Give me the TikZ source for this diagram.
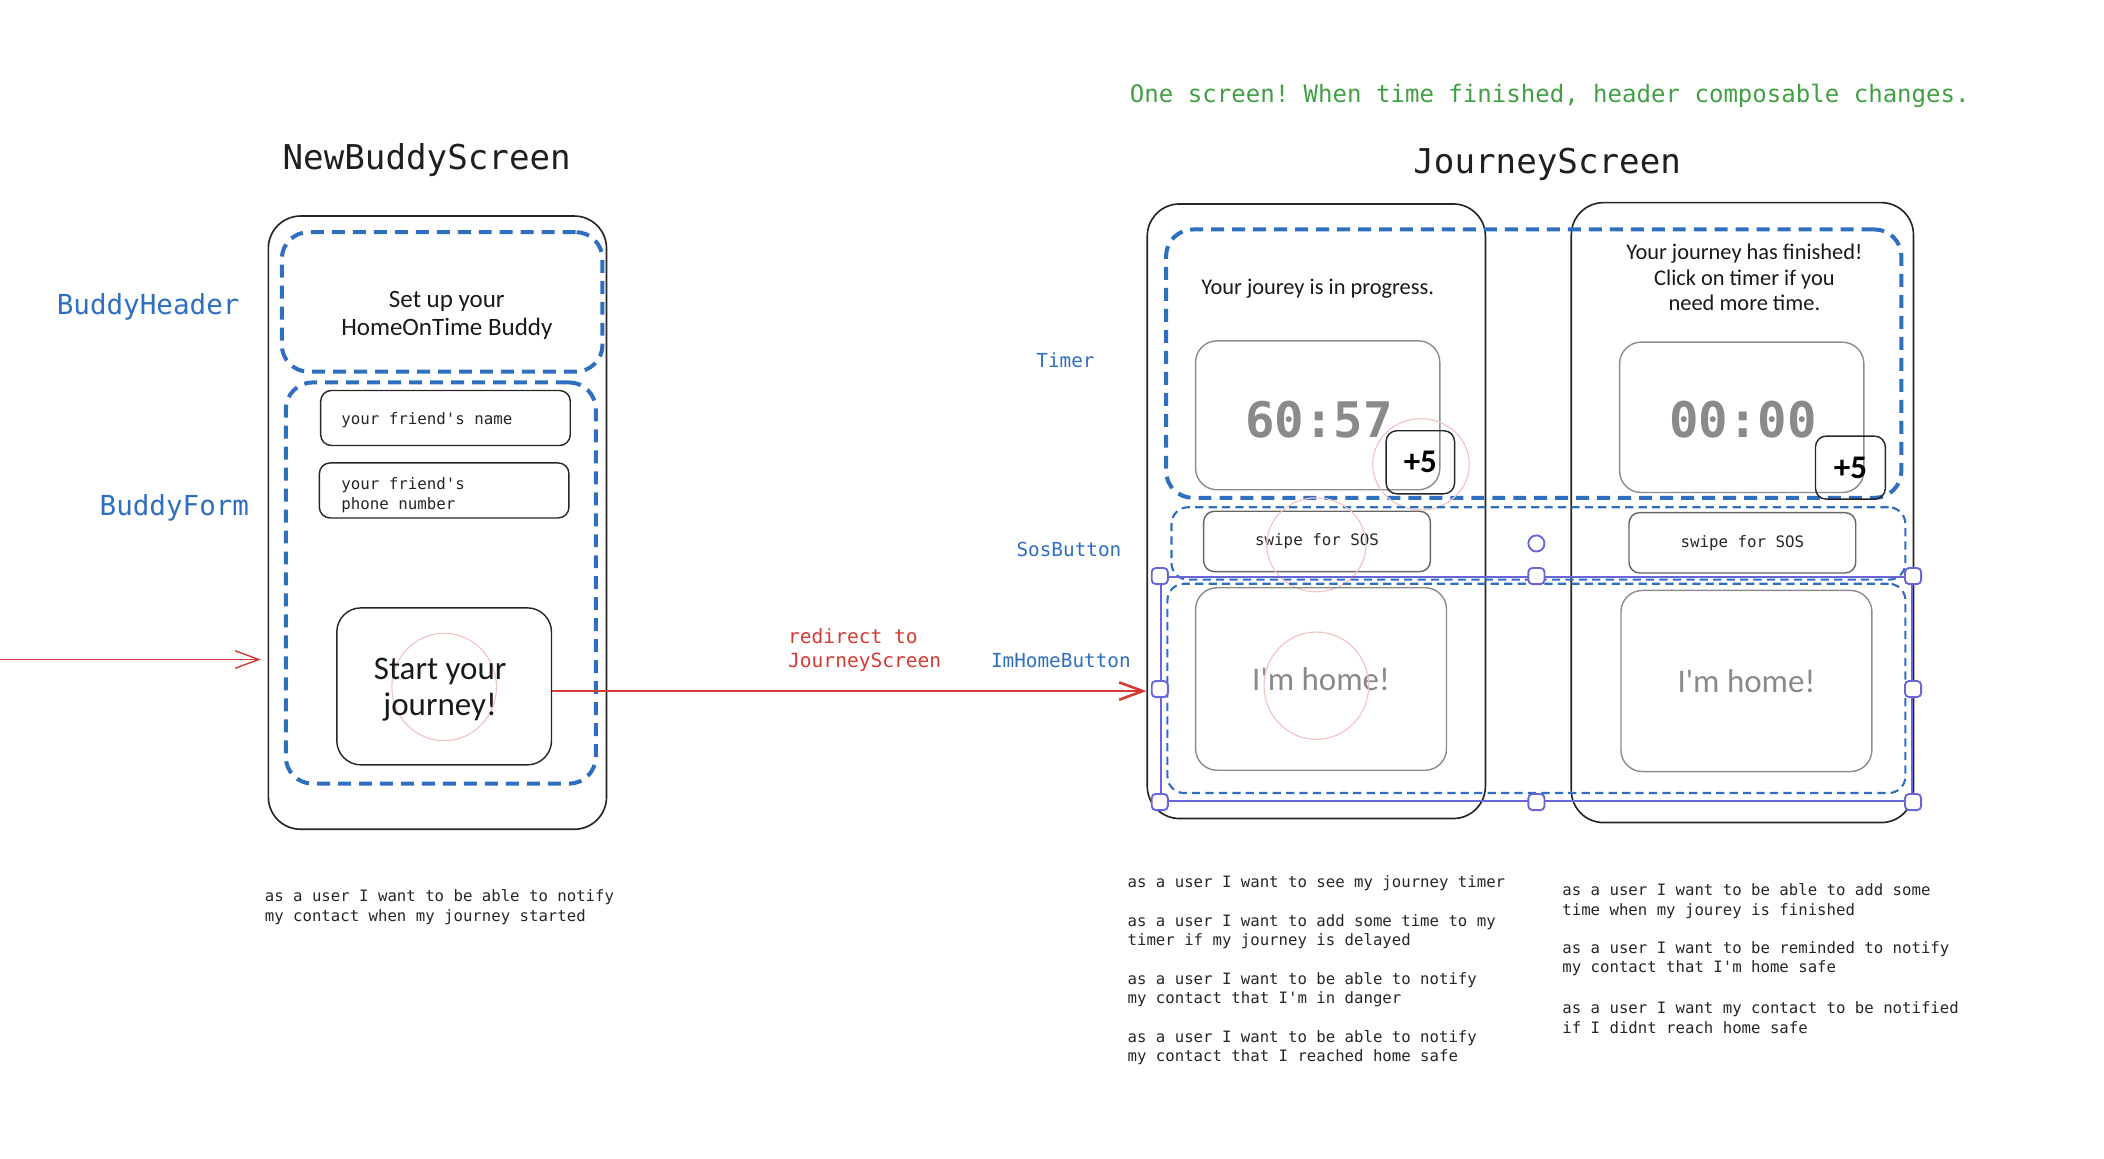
\documentclass[tikz,border=0pt]{standalone}
\usepackage{fontspec}
\setmainfont{DejaVu Sans}
\setmonofont{DejaVu Sans Mono}
\newfontfamily\handfont{Carlito}
\usepackage{xcolor}
\usetikzlibrary{arrows.meta}

\definecolor{compblue}{HTML}{2F6FC2}
\definecolor{flowred}{HTML}{D63A34}
\definecolor{notegreen}{HTML}{42A044}
\definecolor{selpurple}{HTML}{6965DB}
\definecolor{tappink}{HTML}{F2C4C4}
\definecolor{softgray}{HTML}{8A8A8A}

\begin{document}
\begin{tikzpicture}[x=0.02cm, y=-0.02cm]
    \tikzset{wh/.style 2 args={minimum width=#1*0.02cm, minimum height=#2*0.02cm}}
    \tikzstyle{phone}=[draw=black!85, line width=0.7pt, rounded corners=0.48cm, inner sep=0pt]
    \tikzstyle{comp}=[draw=compblue, line width=1.7pt, dash pattern=on 5.5pt off 3.4pt, rounded corners=0.4cm, inner sep=0pt]
    \tikzstyle{compthin}=[draw=compblue, line width=0.9pt, dash pattern=on 3.5pt off 2.2pt, rounded corners=0.25cm, inner sep=0pt]
    \tikzstyle{field}=[draw=black!85, line width=0.6pt, rounded corners=0.16cm, inner sep=0pt]
    \tikzstyle{grayfield}=[draw=black!45, line width=0.6pt, rounded corners=0.32cm, inner sep=0pt]
    \tikzstyle{tap}=[draw=tappink, line width=0.5pt]
    \tikzstyle{title}=[inner sep=0pt, yshift=-0.05cm, text=black!88, font=\ttfamily\fontsize{14.5}{17}\selectfont]
    \tikzstyle{story}=[inner sep=0pt, yshift=-0.05cm, anchor=west, align=left, text=black!85, font=\ttfamily\fontsize{6.65}{8.2}\selectfont]
    \tikzstyle{mono}=[inner sep=0pt, text=black!85, font=\ttfamily\fontsize{6.7}{8.2}\selectfont]
    \tikzstyle{compname}=[inner sep=0pt, yshift=-0.05cm, text=compblue, font=\ttfamily\fontsize{8.2}{10}\selectfont]
    \tikzstyle{bigcompname}=[compname, font=\ttfamily\fontsize{11.7}{14}\selectfont]
    \tikzstyle{hand}=[inner sep=0pt, yshift=-0.04cm, align=center, text=black!90, font=\handfont\fontsize{10.6}{12}\selectfont]
    \tikzstyle{digits}=[inner sep=0pt, yshift=-0.04cm, text=softgray, font=\ttfamily\bfseries\fontsize{20.8}{24}\selectfont]
    \tikzstyle{flow}=[draw=flowred, line width=1.1pt, -{Straight Barb[length=10pt, width=7.4pt]}]
    \tikzstyle{handle}=[draw=selpurple, fill=white, line width=0.8pt, rounded corners=0.06cm, inner sep=0pt, wh={12}{12}]

    \useasboundingbox (0,0) rectangle (1568,863);

    % new buddy screen
    \node[title] (newtitle) at (318,117) {NewBuddyScreen};
    \node[phone, wh={252}{457}] (newframe) at (326,389.5) {};
    \node[comp, wh={239}{104}] (buddyheader) at (329.5,225) {};
    \node[hand] (headertext) at (333,233) {Set up your\\HomeOnTime Buddy};
    \node[comp, wh={231}{299}] (buddyform) at (328.5,434.5) {};
    \node[field, wh={186}{41}] (namefield) at (332,311.5) {};
    \node[mono, anchor=west] (nametext) at (254,313) {your friend's name};
    \node[field, wh={186}{41}] (phonefield) at (331,365.5) {};
    \node[mono, anchor=west, align=left] (phonetext) at (254,369) {your friend's\\phone number};
    \node[field, wh={160}{117}, rounded corners=0.36cm] (startbtn) at (331,511.5) {};
    \draw[tap] (331,512) ellipse [x radius=0.78cm, y radius=0.8cm];
    \node[hand, font=\handfont\fontsize{14}{15.4}\selectfont] (starttext) at (328,512) {Start your\\journey!};

    \node[bigcompname, anchor=west] (headername) at (42,226) {BuddyHeader};
    \node[bigcompname, anchor=east] (formname) at (186,376) {BuddyForm};

    \coordinate (entry) at (0,491.5);
    \draw[flow, line width=0.6pt, shorten >=0.1cm] (entry) -- (newframe.west |- entry);

    \node[story] (newstory) at (197,673.5) {as a user I want to be able to notify\\my contact when my journey started};

    % journey screen
    \node[inner sep=0pt, yshift=-0.05cm, text=notegreen, font=\ttfamily\fontsize{10.2}{12}\selectfont] (note) at (1155,69) {One screen! When time finished, header composable changes.};
    \node[title] (journeytitle) at (1153,120) {JourneyScreen};
    \node[phone, wh={252}{458}] (runframe) at (981,381) {};
    \node[phone, wh={255}{462}] (doneframe) at (1298.5,382) {};

    \node[comp, wh={548}{200}] (timerbox) at (1143,271) {};
    \node[hand, font=\handfont\fontsize{9.5}{10.8}\selectfont] (runtext) at (982,213) {Your jourey is in progress.};
    \node[hand, font=\handfont\fontsize{9.5}{10.8}\selectfont] (donetext) at (1300,205) {Your journey has finished!\\Click on timer if you\\need more time.};
    \node[grayfield, wh={182}{111}] (runtimer) at (982,309.5) {};
    \node[digits] (rundigits) at (983,311) {60:57};
    \node[grayfield, wh={182}{112}] (donetimer) at (1298,311) {};
    \node[digits] (donedigits) at (1299,311) {00:00};
    \node[field, wh={51}{47}, font=\handfont\bfseries\fontsize{14}{16}\selectfont] (runplus) at (1058.5,344.5) {+5};
    \node[field, wh={52}{47}, font=\handfont\bfseries\fontsize{14}{16}\selectfont] (doneplus) at (1379,348.5) {+5};
    \draw[tap] (1059,346) ellipse [x radius=0.72cm, y radius=0.68cm];

    \node[compthin, wh={547}{54}] (sosbox) at (1146.5,405) {};
    \node[field, draw=black!60, wh={169}{45}, mono] (runsos) at (981.5,403.5) {swipe for SOS};
    \node[field, draw=black!60, wh={169}{45}, mono] (donesos) at (1298.5,404.5) {swipe for SOS};
    \draw[tap] (981,406) ellipse [x radius=0.74cm, y radius=0.7cm];

    \node[compthin, wh={550}{156}] (homebox) at (1145,513) {};
    \node[grayfield, wh={187}{136}, text=softgray, font=\handfont\fontsize{14}{16}\selectfont] (runhome) at (984.5,506) {I'm home!};
    \node[grayfield, wh={187}{135}, text=softgray, font=\handfont\fontsize{14}{16}\selectfont] (donehome) at (1301.5,507.5) {I'm home!};
    \draw[tap] (981,511) ellipse [x radius=0.78cm, y radius=0.8cm];

    \node[draw=selpurple, line width=0.8pt, inner sep=0pt, wh={560}{167}] (selected) at (1145,513.5) {};
    \foreach \a [count=\i] in {north west, north, north east, west, east, south west, south, south east}
        \node[handle] (handle\i) at (selected.\a) {};
    \node[circle, draw=selpurple, fill=white, line width=0.8pt, inner sep=0pt, minimum size=0.24cm] (rotknob) at (1145,405) {};

    \node[compname, anchor=west] (timername) at (772,266) {Timer};
    \node[compname, anchor=east] (sosname) at (836,407) {SosButton};
    \node[compname, anchor=east] (homename) at (843,490) {ImHomeButton};

    \coordinate (launch) at ([yshift=-0.07cm]startbtn.east);
    \draw[flow] (launch) -- (runframe.west |- launch);
    \node[compname, text=flowred, anchor=west, align=left, font=\ttfamily\fontsize{8.3}{10.2}\selectfont] (redirect) at (587,482) {redirect to\\JourneyScreen};

    \node[story] (story1) at (840,656) {as a user I want to see my journey timer};
    \node[story] (story2) at (840,692) {as a user I want to add some time to my\\timer if my journey is delayed};
    \node[story] (story3) at (840,735) {as a user I want to be able to notify\\my contact that I'm in danger};
    \node[story] (story4) at (840,778) {as a user I want to be able to notify\\my contact that I reached home safe};
    \node[story] (story5) at (1164,669) {as a user I want to be able to add some\\time when my jourey is finished};
    \node[story] (story6) at (1164,712) {as a user I want to be reminded to notify\\my contact that I'm home safe};
    \node[story] (story7) at (1164,756) {as a user I want my contact to be notified\\if I didnt reach home safe};
\end{tikzpicture}
\end{document}
